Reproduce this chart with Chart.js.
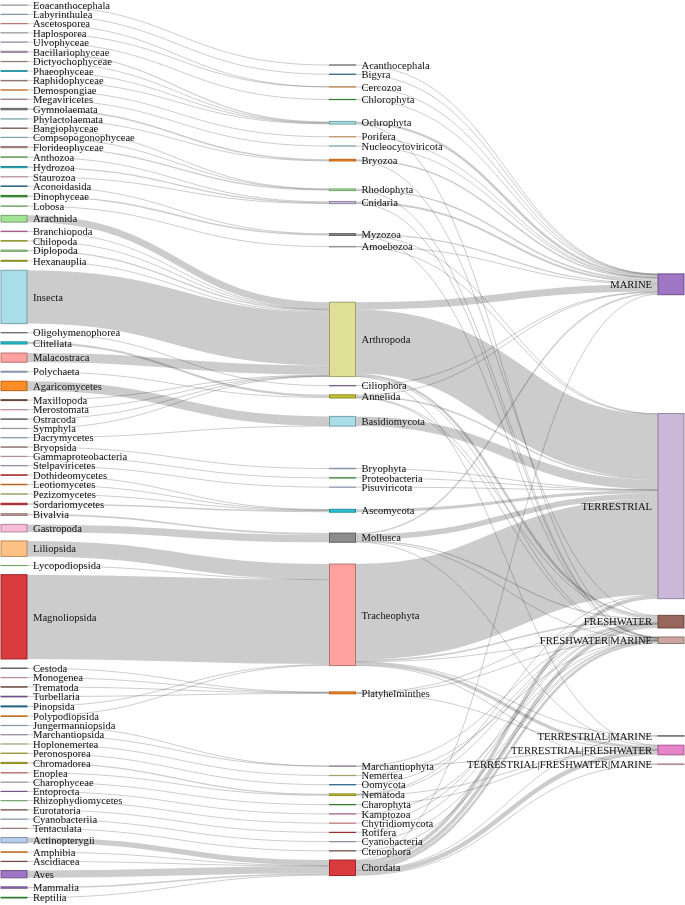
<!DOCTYPE html>
<html><head><meta charset="utf-8">
<script src="https://cdn.jsdelivr.net/npm/chart.js@4"></script>
<style>html,body{margin:0;padding:0;background:#fff;}canvas{display:block;}</style>
</head><body>
<canvas id="c" width="685" height="905"></canvas>
<script>
// ---------------- DATA ----------------
const classNames = ["Eoacanthocephala","Labyrinthulea","Ascetosporea","Haplosporea","Ulvophyceae","Bacillariophyceae","Dictyochophyceae","Phaeophyceae","Raphidophyceae","Demospongiae","Megaviricetes","Gymnolaemata","Phylactolaemata","Bangiophyceae","Compsopogonophyceae","Florideophyceae","Anthozoa","Hydrozoa","Staurozoa","Aconoidasida","Dinophyceae","Lobosa","Arachnida","Branchiopoda","Chilopoda","Diplopoda","Hexanauplia","Insecta","Oligohymenophorea","Clitellata","Malacostraca","Polychaeta","Agaricomycetes","Maxillopoda","Merostomata","Ostracoda","Symphyla","Dacrymycetes","Bryopsida","Gammaproteobacteria","Stelpaviricetes","Dothideomycetes","Leotiomycetes","Pezizomycetes","Sordariomycetes","Bivalvia","Gastropoda","Liliopsida","Lycopodiopsida","Magnoliopsida","Cestoda","Monogenea","Trematoda","Turbellaria","Pinopsida","Polypodiopsida","Jungermanniopsida","Marchantiopsida","Hoplonemertea","Peronosporea","Chromadorea","Enoplea","Charophyceae","Entoprocta","Rhizophydiomycetes","Eurotatoria","Cyanobacteriia","Tentaculata","Actinopterygii","Amphibia","Ascidiacea","Aves","Mammalia","Reptilia"];
const classPhylum = ["Acanthocephala","Bigyra","Cercozoa","Cercozoa","Chlorophyta","Ochrophyta","Ochrophyta","Ochrophyta","Ochrophyta","Porifera","Nucleocytoviricota","Bryozoa","Bryozoa","Rhodophyta","Rhodophyta","Rhodophyta","Cnidaria","Cnidaria","Cnidaria","Myzozoa","Myzozoa","Amoebozoa","Arthropoda","Arthropoda","Arthropoda","Arthropoda","Arthropoda","Arthropoda","Ciliophora","Annelida","Arthropoda","Annelida","Basidiomycota","Arthropoda","Arthropoda","Arthropoda","Arthropoda","Basidiomycota","Bryophyta","Proteobacteria","Pisuviricota","Ascomycota","Ascomycota","Ascomycota","Ascomycota","Mollusca","Mollusca","Tracheophyta","Tracheophyta","Tracheophyta","Platyhelminthes","Platyhelminthes","Platyhelminthes","Platyhelminthes","Tracheophyta","Tracheophyta","Marchantiophyta","Marchantiophyta","Nemertea","Oomycota","Nematoda","Nematoda","Charophyta","Kamptozoa","Chytridiomycota","Rotifera","Cyanobacteria","Ctenophora","Chordata","Chordata","Chordata","Chordata","Chordata","Chordata"];
const classValues = [1,1,1,1,1,5,1,3,2,1,1,6,1,1,1,5,3,5,1,2,6,2,28,2,2,5,4,220,1,9,38,4,39,4,1,2,1,1,2,1,1,2,2,2,6,7,31,64,1,348,2,1,2,3,4,2,1,1,1,1,5,2,1,1,1,1,1,1,22,2,1,30,6,3];

const phylumNames = ["Acanthocephala","Bigyra","Cercozoa","Chlorophyta","Ochrophyta","Porifera","Nucleocytoviricota","Bryozoa","Rhodophyta","Cnidaria","Myzozoa","Amoebozoa","Arthropoda","Ciliophora","Annelida","Basidiomycota","Bryophyta","Proteobacteria","Pisuviricota","Ascomycota","Mollusca","Tracheophyta","Platyhelminthes","Marchantiophyta","Nemertea","Oomycota","Nematoda","Charophyta","Kamptozoa","Chytridiomycota","Rotifera","Cyanobacteria","Ctenophora","Chordata"];

const habitatNames = ["MARINE","TERRESTRIAL","FRESHWATER","FRESHWATER|MARINE","TERRESTRIAL|MARINE","TERRESTRIAL|FRESHWATER","TERRESTRIAL|FRESHWATER|MARINE"];

// rows follow phylumNames, columns follow habitatNames
const phylumHabitatValues = [
  [1,0,0,0,0,0,0],
  [1,0,0,0,0,0,0],
  [2,0,0,0,0,0,0],
  [1,0,0,0,0,0,0],
  [10,0,0,1,0,0,0],
  [1,0,0,0,0,0,0],
  [1,0,0,0,0,0,0],
  [6,0,1,0,0,0,0],
  [6,0,0,1,0,0,0],
  [8,0,0,1,0,0,0],
  [5,2,0,1,0,0,0],
  [1,1,0,0,0,0,0],
  [30,264,10,2,0,1,0],
  [1,0,0,0,0,0,0],
  [3,6,3,1,0,0,0],
  [0,40,0,0,0,0,0],
  [0,2,0,0,0,0,0],
  [0,1,0,0,0,0,0],
  [0,1,0,0,0,0,0],
  [0,12,0,0,0,0,0],
  [6,23,5,2,0,2,0],
  [0,395,7,2,1,13,1],
  [0,0,4,2,0,2,0],
  [0,0,1,0,0,1,0],
  [0,0,0,1,0,0,0],
  [0,0,1,0,0,0,0],
  [0,2,3,0,0,2,0],
  [0,0,0,0,0,1,0],
  [0,0,0,1,0,0,0],
  [0,0,1,0,0,0,0],
  [0,0,1,0,0,0,0],
  [0,0,0,1,0,0,0],
  [0,0,0,1,0,0,0],
  [3,15,15,10,1,18,2]
];

// ---------------- STYLE ----------------
const classColors = ["#c7c7c7","#aec7e8","#ff9896","#c7c7c7","#c5b0d5","#c5b0d5","#c49c94","#17becf","#c49c94","#ff7f0e","#c49c94","#7f7f7f","#9edae5","#8c564b","#9edae5","#c49c94","#98df8a","#17becf","#f7b6d2","#1f77b4","#2ca02c","#98df8a","#98df8a","#e377c2","#bcbd22","#98df8a","#bcbd22","#9edae5","#7f7f7f","#17becf","#ff9896","#aec7e8","#ff7f0e","#8c564b","#f7b6d2","#7f7f7f","#c7c7c7","#aec7e8","#c49c94","#f7b6d2","#c5b0d5","#d62728","#ff7f0e","#dbdb8d","#d62728","#c49c94","#f7b6d2","#ffbb78","#98df8a","#d62728","#7f7f7f","#f7b6d2","#8c564b","#9467bd","#1f77b4","#ff7f0e","#aec7e8","#c5b0d5","#dbdb8d","#bcbd22","#bcbd22","#ff9896","#c7c7c7","#9467bd","#98df8a","#8c564b","#aec7e8","#c49c94","#aec7e8","#ff7f0e","#8c564b","#9467bd","#9467bd","#2ca02c"];
const phylumColors = ["#7f7f7f","#1f77b4","#ffbb78","#2ca02c","#9edae5","#ffbb78","#9edae5","#ff7f0e","#98df8a","#c5b0d5","#7f7f7f","#c7c7c7","#dbdb8d","#9467bd","#bcbd22","#9edae5","#aec7e8","#2ca02c","#aec7e8","#17becf","#7f7f7f","#ff9896","#ff7f0e","#c5b0d5","#dbdb8d","#1f77b4","#bcbd22","#2ca02c","#e377c2","#ff9896","#d62728","#c5b0d5","#8c564b","#d62728"];
const habitatColors = ["#9467bd","#c5b0d5","#8c564b","#c49c94","#7f7f7f","#e377c2","#f7b6d2"];

// ---------------- SANKEY LAYOUT (classic d3 sankey plugin) ----------------
const LAYOUT_W = 683, LAYOUT_H = 893, NODE_W = 26, NODE_PAD = 9, ITER = 32;

function buildGraph() {
  const nodes = [];
  classNames.forEach((n, i) => nodes.push({name: n, color: classColors[i]}));
  phylumNames.forEach((n, i) => nodes.push({name: n, color: phylumColors[i]}));
  habitatNames.forEach((n, i) => nodes.push({name: n, color: habitatColors[i]}));
  const links = [];
  classNames.forEach((n, i) => links.push({source: n, target: classPhylum[i], value: classValues[i]}));
  phylumNames.forEach((p, i) => phylumHabitatValues[i].forEach((v, j) => {
    if (v > 0) links.push({source: p, target: habitatNames[j], value: v});
  }));
  return {nodes, links};
}

function sankey(graph, W, H, nodeWidth, nodePadding, iterations) {
  const {nodes, links} = graph;
  const byName = new Map(nodes.map(d => [d.name, d]));
  nodes.forEach((n, i) => { n.order = i; n.sourceLinks = []; n.targetLinks = []; });
  links.forEach(l => {
    l.source = byName.get(l.source); l.target = byName.get(l.target);
    l.source.sourceLinks.push(l); l.target.targetLinks.push(l);
  });
  const sum = (a, f) => a.reduce((s, d) => s + f(d), 0);
  nodes.forEach(n => n.value = Math.max(sum(n.sourceLinks, l => l.value), sum(n.targetLinks, l => l.value)));
  let remaining = nodes, x = 0;
  while (remaining.length) {
    const next = [];
    remaining.forEach(node => { node.x = x; node.sourceLinks.forEach(l => { if (next.indexOf(l.target) < 0) next.push(l.target); }); });
    remaining = next; ++x;
  }
  nodes.forEach(n => { if (!n.sourceLinks.length) n.x = x - 1; });
  const kx = (W - nodeWidth) / (x - 1);
  const columns = Array.from({length: x}, () => []);
  nodes.forEach(n => { columns[n.x].push(n); n.x *= kx; n.dx = nodeWidth; });
  const center = n => n.y + n.dy / 2;
  const ky = Math.min(...columns.map(c => (H - (c.length - 1) * nodePadding) / sum(c, d => d.value)));
  columns.forEach(c => c.forEach((n, i) => { n.y = i; n.dy = n.value * ky; }));
  links.forEach(l => l.dy = l.value * ky);
  // mode: 'order' keeps the input order, 'top' sorts by top edge, 'center' by centre
  function resolve(mode) {
    columns.forEach((col, ci) => {
      let y0 = 0, node, dy;
      if (mode === 'order' || ci === 0) col.sort((a, b) => a.order - b.order);
      else if (mode === 'center') col.sort((a, b) => center(a) - center(b));
      else col.sort((a, b) => a.y - b.y);
      for (let i = 0; i < col.length; ++i) { node = col[i]; dy = y0 - node.y; if (dy > 0) node.y += dy; y0 = node.y + node.dy + nodePadding; }
      dy = y0 - nodePadding - H;
      if (dy > 0) {
        y0 = node.y -= dy;
        for (let i = col.length - 2; i >= 0; --i) { node = col[i]; dy = node.y + node.dy + nodePadding - y0; if (dy > 0) node.y -= dy; y0 = node.y; }
      }
    });
  }
  function relaxLR(alpha) {
    columns.forEach(col => col.forEach(n => {
      if (n.targetLinks.length) {
        const y = sum(n.targetLinks, l => center(l.source) * l.value) / sum(n.targetLinks, l => l.value);
        n.y += (y - center(n)) * alpha;
      }
    }));
  }
  function relaxRL(alpha) {
    columns.slice().reverse().forEach(col => col.forEach(n => {
      if (n.sourceLinks.length) {
        const y = sum(n.sourceLinks, l => center(l.target) * l.value) / sum(n.sourceLinks, l => l.value);
        n.y += (y - center(n)) * alpha;
      }
    }));
  }
  resolve('order');
  for (let alpha = 1; iterations > 0; --iterations) {
    relaxRL(alpha *= 0.99); resolve('center');
    relaxLR(alpha); resolve('top');
  }
  resolve('order');
  nodes.forEach(n => { n.sourceLinks.sort((a, b) => a.target.y - b.target.y); n.targetLinks.sort((a, b) => a.source.y - b.source.y); });
  nodes.forEach(n => {
    let sy = 0, ty = 0;
    n.sourceLinks.forEach(l => { l.sy = sy; sy += l.dy; });
    n.targetLinks.forEach(l => { l.ty = ty; ty += l.dy; });
  });
  return graph;
}

const graph = sankey(buildGraph(), LAYOUT_W, LAYOUT_H, NODE_W, NODE_PAD, ITER);

function darker(hex, k) {
  const f = Math.pow(0.7, k);
  const r = parseInt(hex.slice(1, 3), 16), g = parseInt(hex.slice(3, 5), 16), b = parseInt(hex.slice(5, 7), 16);
  return `rgb(${Math.round(r * f)},${Math.round(g * f)},${Math.round(b * f)})`;
}

const FONT_PX = 10.6;
const sankeyPlugin = {
  id: 'sankeyDraw',
  afterDraw(chart) {
    const {ctx, scales: {x, y}} = chart;
    const px = v => x.getPixelForValue(v), pyx = v => y.getPixelForValue(v);
    ctx.save();
    ctx.lineCap = 'butt';
    ctx.strokeStyle = 'rgba(0,0,0,0.2)';
    for (const l of graph.links) {
      const xa = px(l.source.x + l.source.dx), xb = px(l.target.x), xm = (xa + xb) / 2;
      const ya = pyx(l.source.y + l.sy + l.dy / 2), yb = pyx(l.target.y + l.ty + l.dy / 2);
      ctx.lineWidth = Math.max(1, Math.abs(pyx(l.dy) - pyx(0)));
      ctx.beginPath(); ctx.moveTo(xa, ya); ctx.bezierCurveTo(xm, ya, xm, yb, xb, yb); ctx.stroke();
    }
    for (const n of graph.nodes) {
      const xa = px(n.x), xb = px(n.x + n.dx), ya = pyx(n.y), yb = pyx(n.y + n.dy);
      ctx.globalAlpha = 0.9;
      ctx.fillStyle = n.color;
      ctx.fillRect(xa, ya, xb - xa, yb - ya);
      ctx.strokeStyle = darker(n.color, 1);
      ctx.lineWidth = 1;
      ctx.strokeRect(xa, ya, xb - xa, yb - ya);
      ctx.globalAlpha = 1;
    }
    ctx.font = FONT_PX + 'px "Liberation Serif", "Times New Roman", serif';
    ctx.fillStyle = '#111';
    ctx.textBaseline = 'alphabetic';
    for (const n of graph.nodes) {
      const left = n.x < LAYOUT_W / 2;
      const cy = (pyx(n.y) + pyx(n.y + n.dy)) / 2 + 0.35 * FONT_PX;
      ctx.textAlign = left ? 'left' : 'right';
      ctx.fillText(n.name, left ? px(n.x + n.dx) + 6 : px(n.x) - 6, cy);
    }
    ctx.restore();
  }
};

new Chart(document.getElementById('c'), {
  type: 'scatter',
  data: {datasets: []},
  options: {
    responsive: false, animation: false, devicePixelRatio: 1,
    layout: {padding: {left: 1, right: 1, top: 5, bottom: 7}},
    plugins: {legend: {display: false}, tooltip: {enabled: false}, title: {display: false}},
    scales: {
      x: {type: 'linear', display: false, min: 0, max: LAYOUT_W},
      y: {type: 'linear', display: false, reverse: true, min: 0, max: LAYOUT_H}
    }
  },
  plugins: [sankeyPlugin]
});
</script>
</body></html>
